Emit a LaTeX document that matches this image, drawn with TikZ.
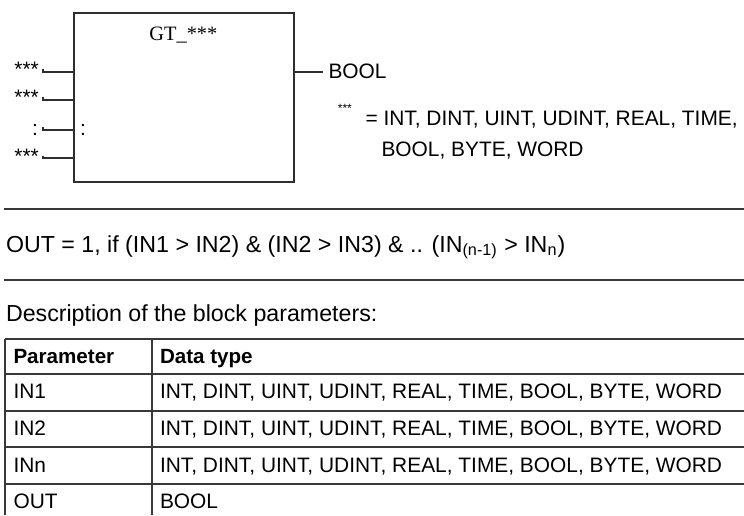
\documentclass[tikz,border=0pt]{standalone}
\usepackage{fontspec}
\setmainfont{Liberation Sans}
\newfontfamily\blkserif{Liberation Serif}
\begin{document}
\begin{tikzpicture}[x=0.5pt,y=-0.5pt,
  wire/.style={draw=black!82, line width=0.9pt},
  rulel/.style={draw=black!78, line width=1pt},
  lbl/.style={anchor=base west, inner sep=0pt, outer sep=0pt, font=\fontsize{10.45}{12}\selectfont},
  big/.style={anchor=base west, inner sep=0pt, outer sep=0pt, font=\fontsize{11.6}{14}\selectfont},
  hdr/.style={lbl, font=\fontsize{10.3}{12}\selectfont\bfseries}]
\useasboundingbox (0,0) rectangle (744,515);
% block
\node[wire, draw, anchor=north west, inner sep=0pt, minimum width=110pt, minimum height=84.35pt] (blk) at (73.3,12) {};
\node[anchor=base west, inner sep=0pt, font=\blkserif\fontsize{10.2}{12}\selectfont] (title) at (149,40) {GT\_***};
% inputs
\coordinate (i1) at (43.3,71.7);
\coordinate (i2) at (43.3,100);
\coordinate (i3) at (43.3,130);
\coordinate (i4) at (43.3,158.3);
\foreach \c in {i1,i2,i3,i4}{
  \draw[wire] ([yshift=1.4pt]\c) -- (\c) -- (\c -| blk.west);
}
\node[lbl] (l1) at (14.4,76.5) {***};
\node[lbl] (l2) at (14.4,104.5) {***};
\node[lbl] (l3) at (32.2,135.5) {:};
\node[lbl] (l4) at (14.4,163.5) {***};
\node[lbl] (l5) at (80.2,135.5) {:};
% output
\coordinate (o) at (323,72);
\draw[wire] (o -| blk.east) -- (o);
\node[lbl] (bool) at (328.5,78) {BOOL};
% note
\node[anchor=base west, inner sep=0pt, font=\fontsize{6}{7}\selectfont] (ast) at (337.5,112) {***};
\node[lbl] (n1) at (365.5,125.7) {= INT, DINT, UINT, UDINT, REAL, TIME,};
\node[lbl] (n2) at (381.5,156.7) {BOOL, BYTE, WORD};
% formula
\draw[rulel] (4,209) -- (744,209);
\node[big] (form) at (6,252.3) {OUT = 1, if (IN1 > IN2) \& (IN2 > IN3) \& .. (IN\textsubscript{(n-1)} > IN\textsubscript{n})};
\draw[rulel] (4,280) -- (744,280);
\node[big] (desc) at (6,321) {Description of the block parameters:};
% table
\foreach \y in {339,374,411,447,484}{
  \draw[rulel] (4.7,\y) -- (744,\y);
}
\draw[rulel] (4.7,339) -- (4.7,515);
\draw[rulel] (151.7,339) -- (151.7,515);
\node[hdr] (h1) at (13.5,363) {Parameter};
\node[hdr] (h2) at (160,363) {Data type};
\node[lbl] (p1) at (13.5,398) {IN1};
\node[lbl] (d1) at (160,398) {INT, DINT, UINT, UDINT, REAL, TIME, BOOL, BYTE, WORD};
\node[lbl] (p2) at (13.5,435.5) {IN2};
\node[lbl] (d2) at (160,435.5) {INT, DINT, UINT, UDINT, REAL, TIME, BOOL, BYTE, WORD};
\node[lbl] (p3) at (13.5,472) {INn};
\node[lbl] (d3) at (160,472) {INT, DINT, UINT, UDINT, REAL, TIME, BOOL, BYTE, WORD};
\node[lbl] (p4) at (13.5,508) {OUT};
\node[lbl] (d4) at (160,508) {BOOL};
\end{tikzpicture}
\end{document}
